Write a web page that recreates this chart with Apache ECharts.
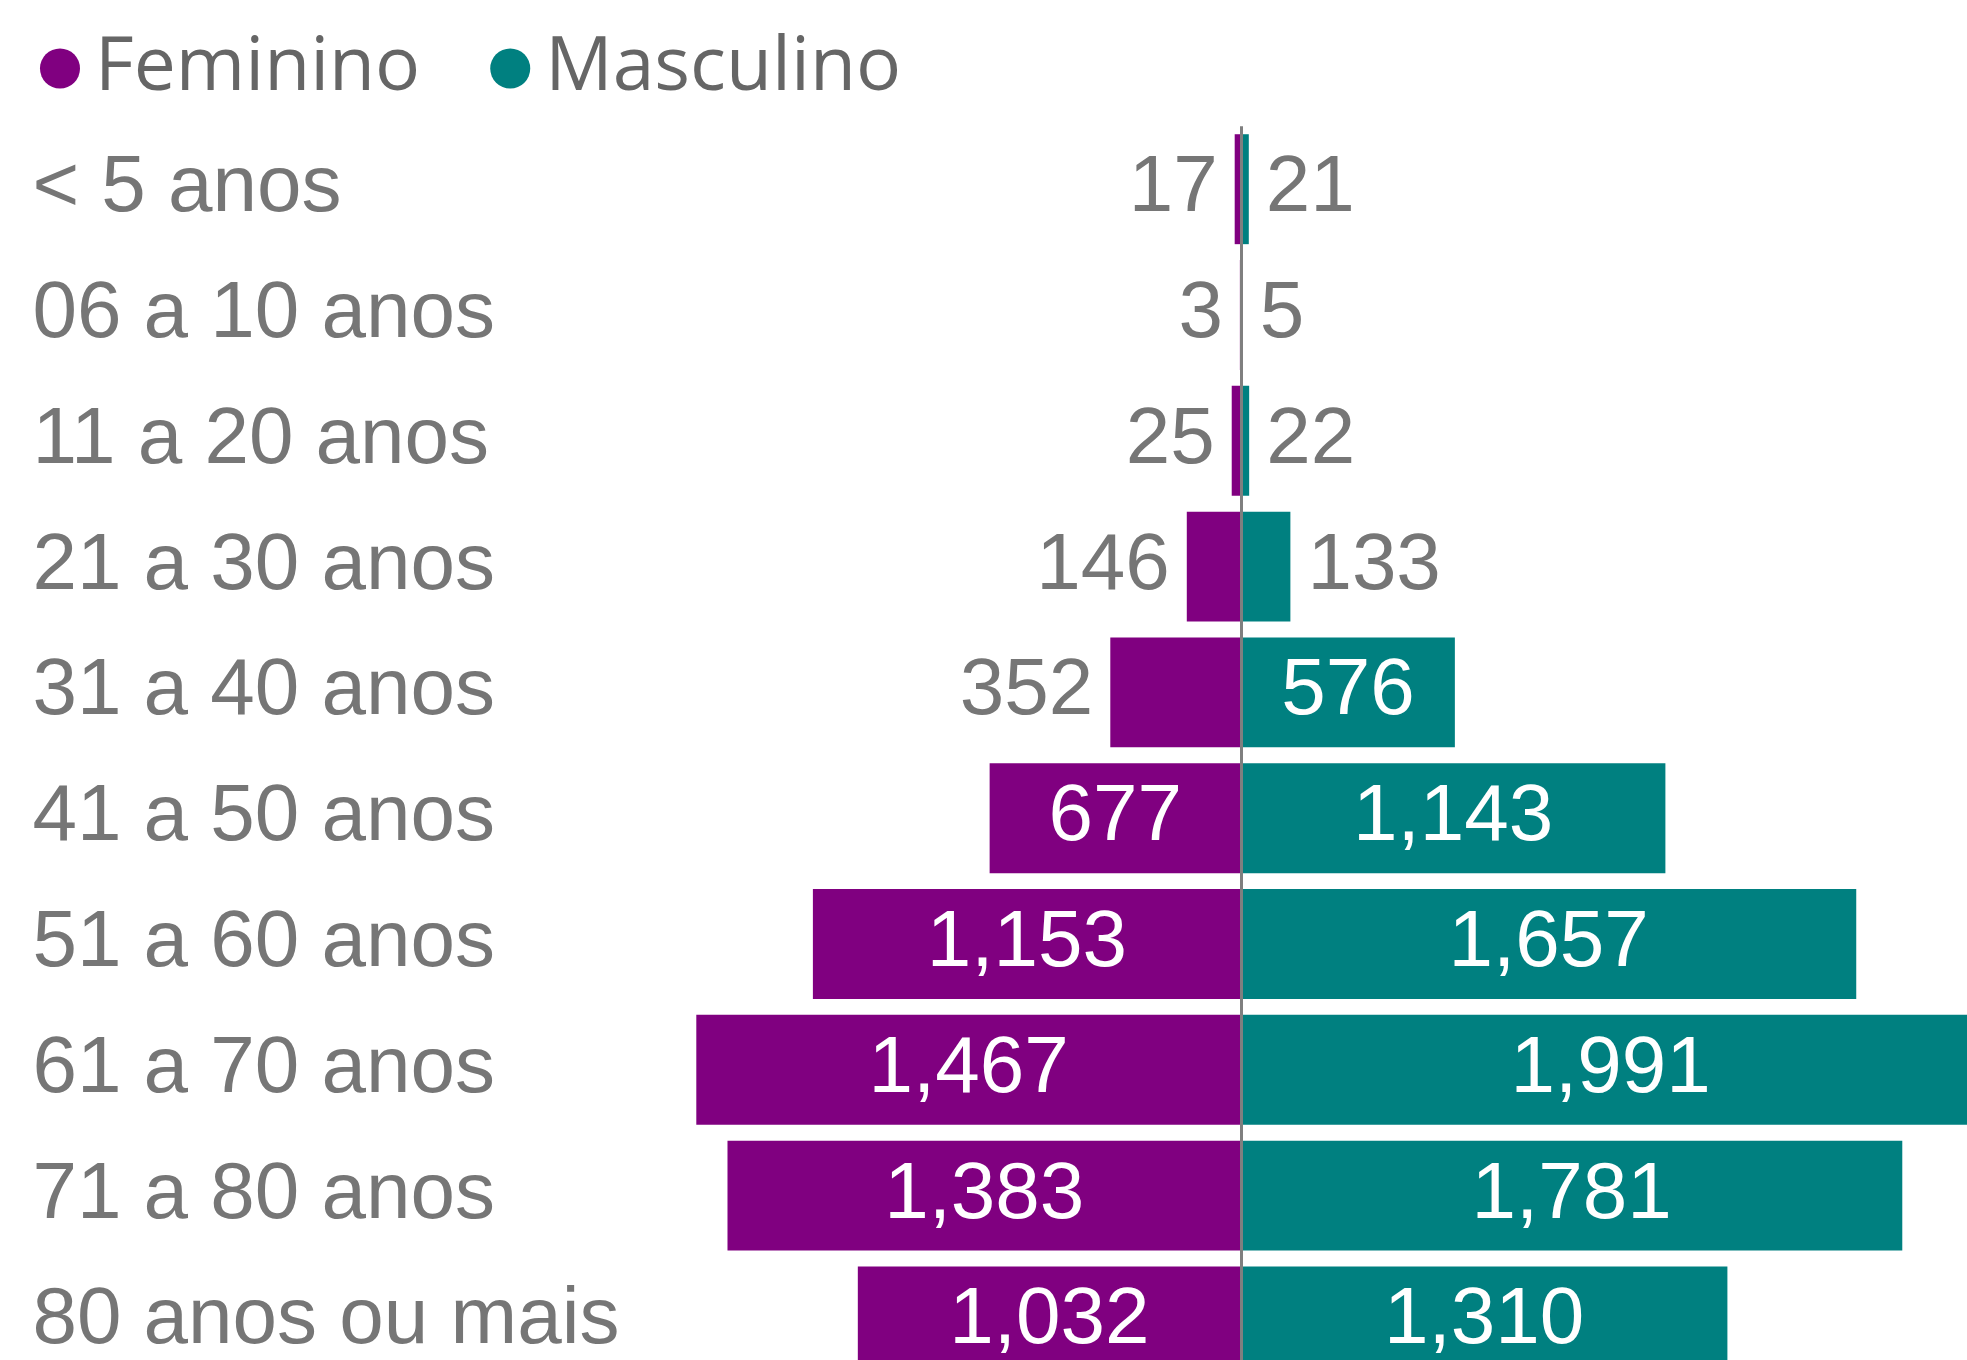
<!DOCTYPE html>
<html>
<head>
<meta charset="utf-8">
<script src="https://cdn.jsdelivr.net/npm/echarts@6/dist/echarts.min.js"></script>
<style>
  html, body { margin: 0; padding: 0; background: #fff; overflow: hidden; }
  /* the reference is cropped at right and bottom, so the chart is drawn larger and clipped */
  #frame { width: 1967px; height: 1360px; overflow: hidden; position: relative; }
  #chart { width: 2000px; height: 1400px; }
</style>
</head>
<body>
<div id="frame"><div id="chart"></div></div>
<script>
const categories = ["< 5 anos", "06 a 10 anos", "11 a 20 anos", "21 a 30 anos", "31 a 40 anos",
  "41 a 50 anos", "51 a 60 anos", "61 a 70 anos", "71 a 80 anos", "80 anos ou mais"];
const feminino = [17, 3, 25, 146, 352, 677, 1153, 1467, 1383, 1032];
const masculino = [21, 5, 22, 133, 576, 1143, 1657, 1991, 1781, 1310];

const gray = "#767676";
const labelFont = "Liberation Sans";

// small bars get the label outside in gray, the rest inside in white
function toItems(list, sign, outsidePos) {
  return list.map(function (v) {
    const inside = v > 400;
    return {
      value: sign * v,
      label: {
        position: inside ? "inside" : outsidePos,
        color: inside ? "#fff" : gray,
      },
    };
  });
}

const myChart = echarts.init(document.getElementById("chart"));

const option = {
  backgroundColor: "#fff",
  animation: false,
  legend: {
    data: ["Feminino", "Masculino"],
    left: 40,
    top: 31,
    padding: 0,
    icon: "circle",
    itemWidth: 40,
    itemHeight: 40,
    itemGap: 70,
    textStyle: {
      fontFamily: "Open Sans",
      fontSize: 75,
      color: "#666",
      padding: [13, 0, 0, 10],
    },
  },
  grid: {
    left: 498.4,
    top: 126.3,
    width: 1485.2,
    height: 1258,
  },
  xAxis: {
    type: "value",
    min: -2000,
    max: 2000,
    show: false,
  },
  yAxis: {
    type: "category",
    data: categories,
    inverse: true,
    axisLine: { show: false },
    axisTick: { show: false },
    axisLabel: {
      align: "left",
      margin: 466,
      fontFamily: labelFont,
      fontSize: 80,
      color: gray,
    },
  },
  series: [
    {
      name: "Feminino",
      type: "bar",
      stack: "pop",
      barCategoryGap: "12.6%",
      itemStyle: { color: "#800080" },
      label: {
        show: true,
        distance: 17,
        fontFamily: labelFont,
        fontSize: 80,
        formatter: function (p) {
          return Math.abs(p.value).toLocaleString("en-US");
        },
      },
      data: toItems(feminino, -1, "left"),
    },
    {
      name: "Masculino",
      type: "bar",
      stack: "pop",
      barCategoryGap: "12.6%",
      itemStyle: { color: "#008080" },
      label: {
        show: true,
        distance: 17,
        fontFamily: labelFont,
        fontSize: 80,
        formatter: function (p) {
          return p.value.toLocaleString("en-US");
        },
      },
      data: toItems(masculino, 1, "right"),
      markLine: {
        silent: true,
        symbol: "none",
        label: { show: false },
        lineStyle: { color: "#7f7f7f", width: 3, type: "solid" },
        data: [{ xAxis: 0 }],
      },
    },
  ],
};

myChart.setOption(option);
</script>
</body>
</html>
